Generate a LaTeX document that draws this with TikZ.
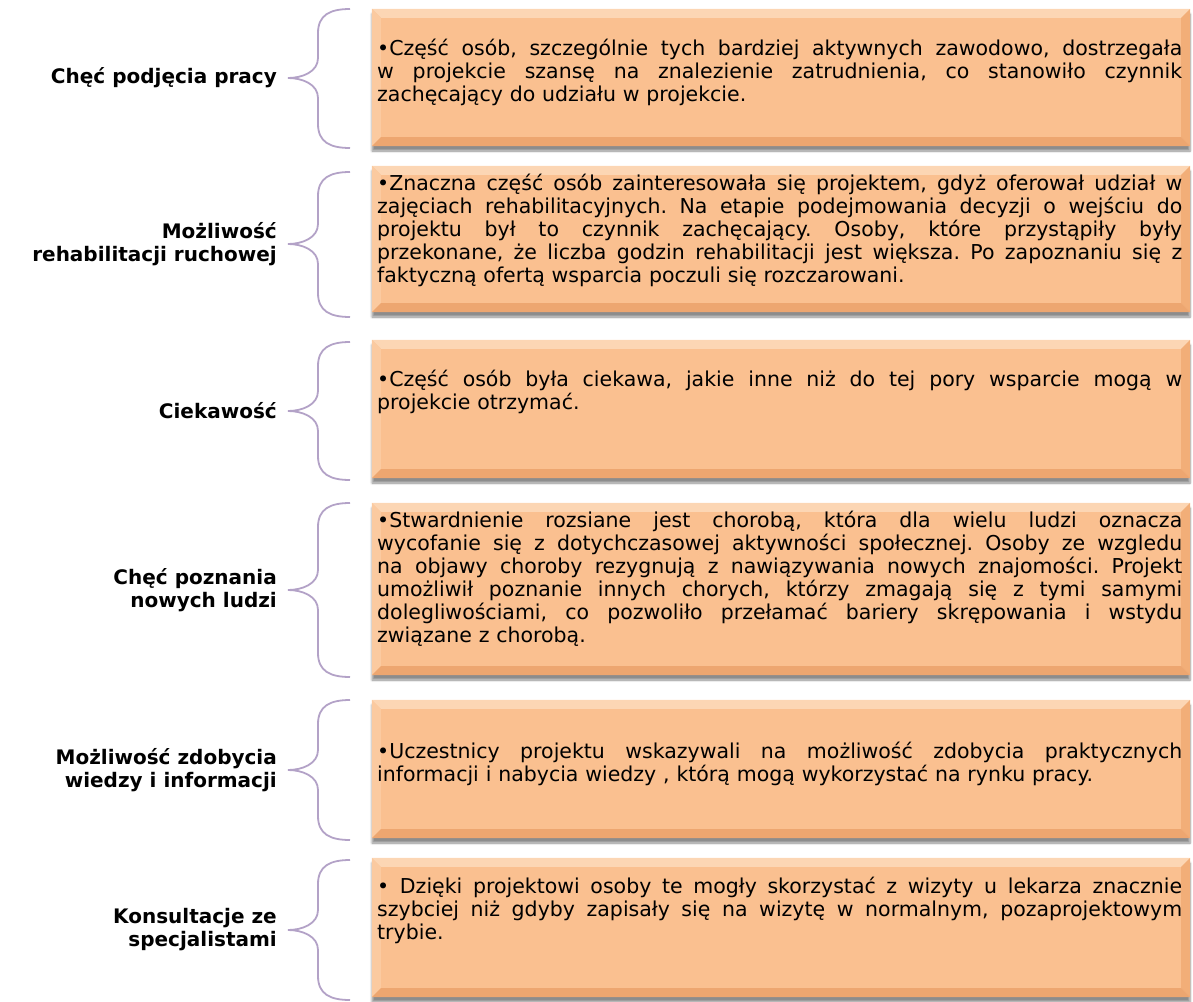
\documentclass[tikz,border=0pt]{standalone}
\usepackage{fontspec}
\setmainfont{DejaVu Sans}
\usetikzlibrary{calc,shadows.blur}

\definecolor{peach}{HTML}{FAC090}
\definecolor{peachlight}{HTML}{FCD6B4}
\definecolor{peachleft}{HTML}{FBCAA0}
\definecolor{peachright}{HTML}{F2AE78}
\definecolor{peachbottom}{HTML}{EDA670}
\definecolor{lavender}{HTML}{B3A2C7}

% one justified line of body text (stretchable word spaces)
\newcommand\jline[1]{\leavevmode{\spaceskip=.3em plus 1em minus .04em\relax\hbox to \hsize{#1}}}

% bevelled edges of a box node
\newcommand\bevelbox[1]{%
  \fill[peachlight] (#1.north west) -- (#1.north east) -- ($(#1.north east)+(-9,9)$) -- ($(#1.north west)+(9,9)$) -- cycle;
  \fill[peachleft] (#1.north west) -- ($(#1.north west)+(9,9)$) -- ($(#1.south west)+(9,-9)$) -- (#1.south west) -- cycle;
  \fill[peachright] (#1.north east) -- ($(#1.north east)+(-9,9)$) -- ($(#1.south east)+(-9,-9)$) -- (#1.south east) -- cycle;
  \fill[peachbottom] (#1.south west) -- ($(#1.south west)+(9,-9)$) -- ($(#1.south east)+(-9,-9)$) -- (#1.south east) -- cycle;
}

% curly bracket: top end, tip, bottom end
\newcommand\drawbrace[3]{%
  \draw[bracket] (350,#1) .. controls (330,#1) and (318,#1+6) .. (318,#1+24)
    -- (318,#2-20) .. controls (318,#2-6) and (302,#2) .. (288,#2)
    .. controls (302,#2) and (318,#2+6) .. (318,#2+20)
    -- (318,#3-24) .. controls (318,#3-6) and (330,#3) .. (350,#3);
}

\tikzset{
  box/.style={fill=peach, minimum width=818pt, inner sep=0pt,
    blur shadow={shadow xshift=0pt, shadow yshift=-5pt, shadow blur steps=6, shadow opacity=45}},
  bodytext/.style={anchor=west, text width=805pt, align=left, inner sep=0pt,
    font=\fontsize{20.5}{23}\selectfont\frenchspacing},
  lbl/.style={anchor=east, align=right, inner sep=0pt,
    font=\fontsize{20}{23}\selectfont\bfseries},
  bracket/.style={draw=lavender, line width=1.8pt},
}

\begin{document}
\begin{tikzpicture}[x=1pt, y=-1pt]
\useasboundingbox (0,0) rectangle (1193,1001);

% boxes
\node[box, minimum height=137pt] (b1) at (781,77.5) {};
\bevelbox{b1}
\node[box, minimum height=146pt] (b2) at (781,239) {};
\bevelbox{b2}
\node[box, minimum height=138pt] (b3) at (781,409) {};
\bevelbox{b3}
\node[box, minimum height=172pt] (b4) at (781,589) {};
\bevelbox{b4}
\node[box, minimum height=138pt] (b5) at (781,769) {};
\bevelbox{b5}
\node[box, minimum height=139pt] (b6) at (781,927.5) {};
\bevelbox{b6}

% brackets
\drawbrace{9}{78}{148}
\drawbrace{172}{244}{317}
\drawbrace{342}{411}{480}
\drawbrace{503}{590}{677}
\drawbrace{700}{770}{840}
\drawbrace{860}{930}{1000}

% labels
\node[lbl] (l1) at (277,78) {Chęć podjęcia pracy};
\node[lbl] (l2) at (277,244) {Możliwość\\rehabilitacji ruchowej};
\node[lbl] (l3) at (277,411) {Ciekawość};
\node[lbl] (l4) at (277,590) {Chęć poznania\\nowych ludzi};
\node[lbl] (l5) at (277,770) {Możliwość zdobycia\\wiedzy i informacji};
\node[lbl] (l6) at (277,930) {Konsultacje ze\\specjalistami};

% descriptions
\node[bodytext] (t1) at (377,72.5) {%
\jline{•Część osób, szczególnie tych bardziej aktywnych zawodowo, dostrzegała}\\
\jline{w projekcie szansę na znalezienie zatrudnienia, co stanowiło czynnik}\\
zachęcający do udziału w projekcie.};
\node[bodytext] (t2) at (377,230) {%
\jline{•Znaczna część osób zainteresowała się projektem, gdyż oferował udział w}\\
\jline{zajęciach rehabilitacyjnych. Na etapie podejmowania decyzji o wejściu do}\\
\jline{projektu był to czynnik zachęcający. Osoby, które przystąpiły były}\\
\jline{przekonane, że liczba godzin rehabilitacji jest większa. Po zapoznaniu się z}\\
faktyczną ofertą wsparcia poczuli się rozczarowani.};
\node[bodytext] (t3) at (377,392) {%
\jline{•Część osób była ciekawa, jakie inne niż do tej pory wsparcie mogą w}\\
projekcie otrzymać.};
\node[bodytext] (t4) at (377,579) {%
\jline{•Stwardnienie rozsiane jest chorobą, która dla wielu ludzi oznacza}\\
\jline{wycofanie się z dotychczasowej aktywności społecznej. Osoby ze wzgledu}\\
\jline{na objawy choroby rezygnują z nawiązywania nowych znajomości. Projekt}\\
\jline{umożliwił poznanie innych chorych, którzy zmagają się z tymi samymi}\\
\jline{dolegliwościami, co pozwoliło przełamać bariery skrępowania i wstydu}\\
związane z chorobą.};
\node[bodytext] (t5) at (377,764) {%
\jline{•Uczestnicy projektu wskazywali na możliwość zdobycia praktycznych}\\
informacji i nabycia wiedzy , którą mogą wykorzystać na rynku pracy.};
\node[bodytext] (t6) at (377,910) {%
\jline{• Dzięki projektowi osoby te mogły skorzystać z wizyty u lekarza znacznie}\\
\jline{szybciej niż gdyby zapisały się na wizytę w normalnym, pozaprojektowym}\\
trybie.};
\end{tikzpicture}
\end{document}
